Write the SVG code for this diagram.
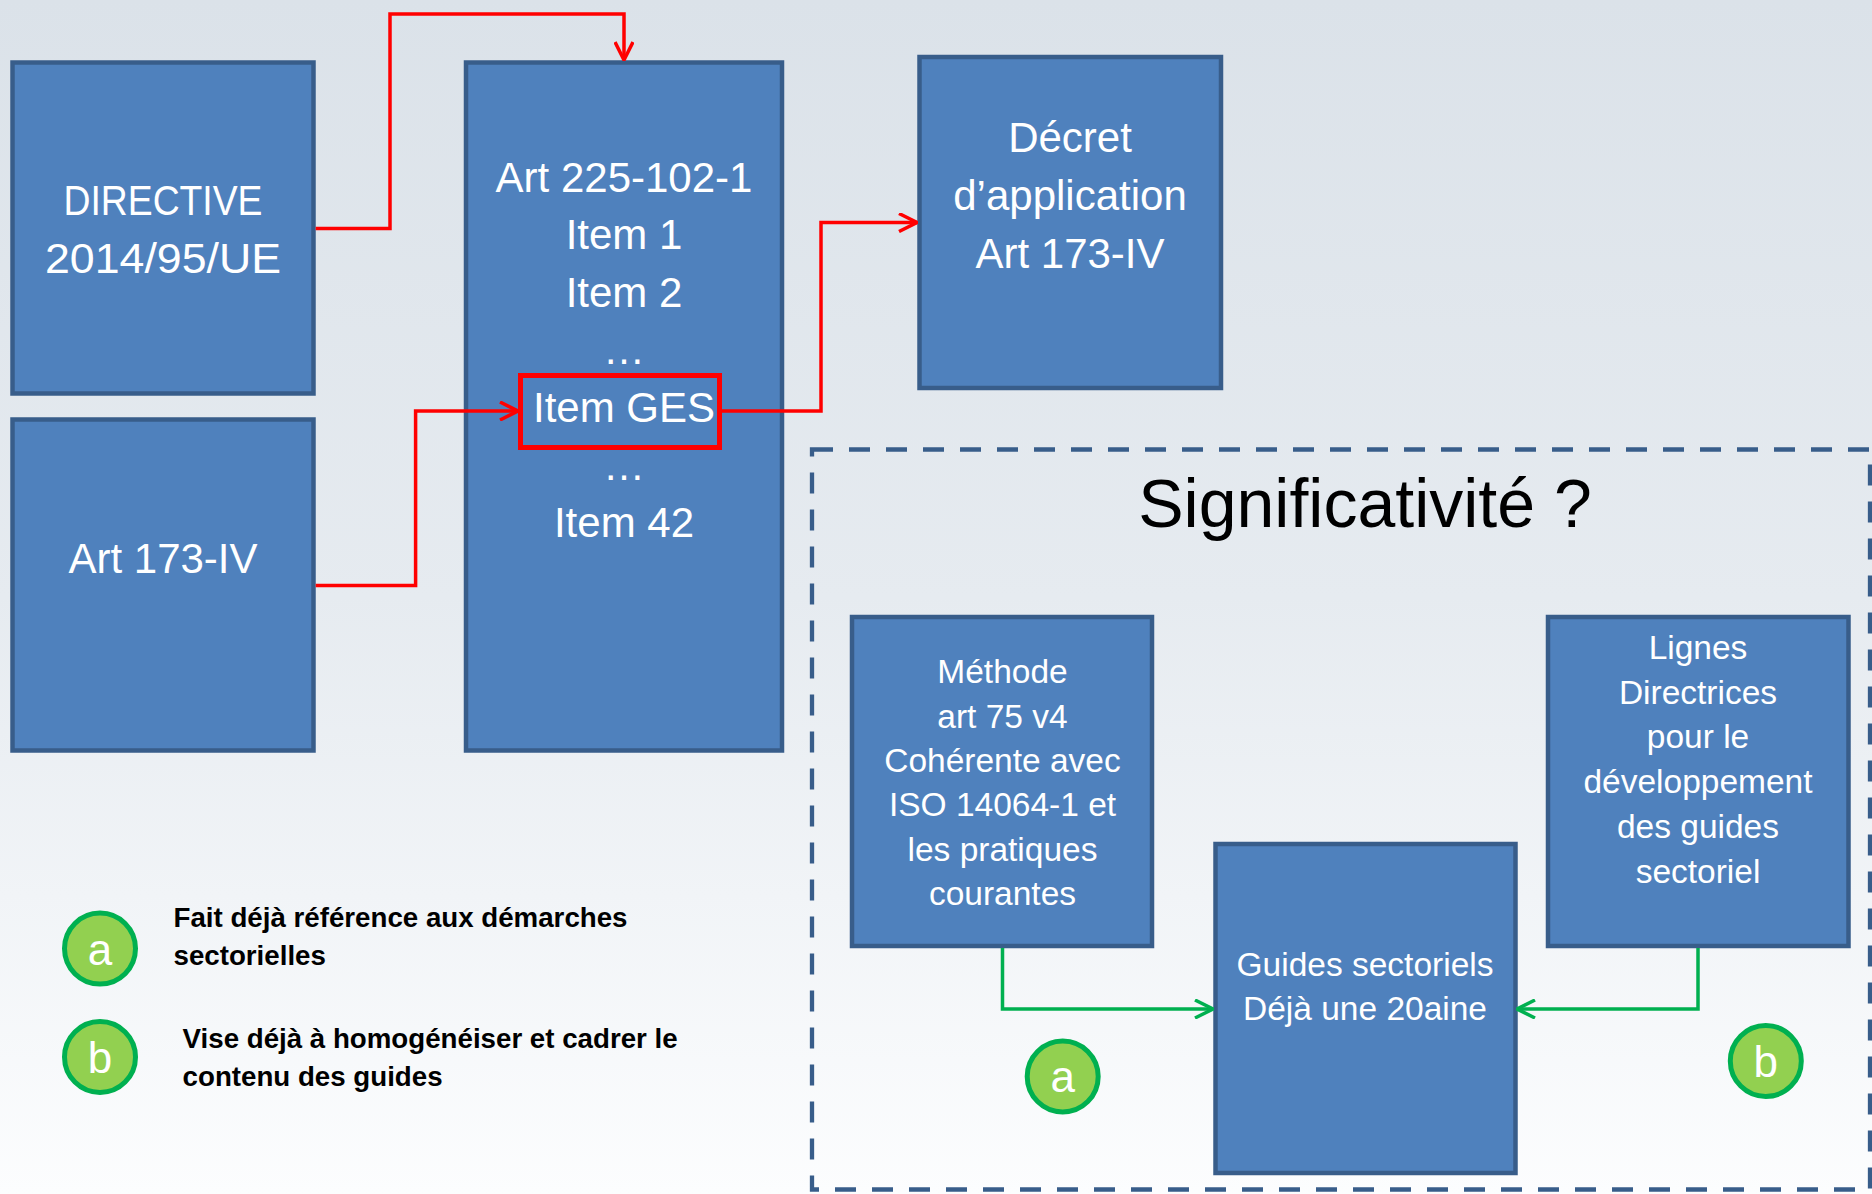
<svg xmlns="http://www.w3.org/2000/svg" width="1872" height="1194" viewBox="0 0 1872 1194">
  <defs>
    <linearGradient id="bg" x1="0" y1="0" x2="0" y2="1">
      <stop offset="0" stop-color="#DBE2E9"/>
      <stop offset="0.5" stop-color="#E6EBF0"/>
      <stop offset="1" stop-color="#FCFDFE"/>
    </linearGradient>
    <marker id="arrRed" viewBox="0 0 20 20" refX="19" refY="10" markerWidth="20" markerHeight="20" markerUnits="userSpaceOnUse" orient="auto">
      <path d="M1,1 L19,10 L1,19" fill="none" stroke="#FF0000" stroke-width="3.5"/>
    </marker>
    <marker id="arrGreen" viewBox="0 0 20 20" refX="19" refY="10" markerWidth="20" markerHeight="20" markerUnits="userSpaceOnUse" orient="auto">
      <path d="M1,1 L19,10 L1,19" fill="none" stroke="#00B050" stroke-width="3.5"/>
    </marker>
  </defs>
  <style>
    .box { fill: #4F81BD; stroke: #385D8A; stroke-width: 4.5; }
    .t { font-family: "Liberation Sans", Arial, sans-serif; fill: #FFFFFF; text-anchor: middle; }
    .big { font-size: 42px; }
    .med { font-size: 33.5px; }
    .red { fill: none; stroke: #FF0000; stroke-width: 3.5; marker-end: url(#arrRed); }
    .green { fill: none; stroke: #00B050; stroke-width: 3.5; marker-end: url(#arrGreen); }
    .circ { fill: #92D050; stroke: #00B050; stroke-width: 5; }
    .letter { font-family: "Liberation Sans", Arial, sans-serif; font-size: 44px; fill: #FFFFFF; text-anchor: middle; }
    .legend { font-family: "Liberation Sans", Arial, sans-serif; font-size: 27.7px; font-weight: bold; fill: #000000; }
  </style>

  <rect x="0" y="0" width="1872" height="1194" fill="url(#bg)"/>

  <g id="zone-significativite">
    <rect x="812" y="449.5" width="1058" height="740" fill="none" stroke="#385D8A" stroke-width="4.3" stroke-dasharray="21 16"/>
    <text x="1365" y="526.5" font-family="Liberation Sans, Arial, sans-serif" font-size="68" fill="#000000" text-anchor="middle">Significativité ?</text>
  </g>

  <g id="directive">
    <rect class="box" x="12.5" y="62.5" width="301" height="331"/>
    <text class="t big" x="163" y="215" textLength="199" lengthAdjust="spacingAndGlyphs">DIRECTIVE</text>
    <text class="t big" x="163" y="272.7" textLength="236" lengthAdjust="spacingAndGlyphs">2014/95/UE</text>
  </g>

  <g id="art173">
    <rect class="box" x="12.5" y="419.5" width="301" height="331"/>
    <text class="t big" x="163" y="572.6">Art 173-IV</text>
  </g>

  <g id="art225">
    <rect class="box" x="466" y="62.5" width="316" height="688"/>
    <text class="t big"><tspan x="624" y="191.5">Art 225-102-1</tspan><tspan x="624" y="249.1">Item 1</tspan><tspan x="624" y="306.7">Item 2</tspan><tspan x="624" y="364.3">…</tspan><tspan x="624" y="479.5">…</tspan><tspan x="624" y="537.1">Item 42</tspan></text>
  </g>

  <g id="item-ges">
    <rect x="520.5" y="375.5" width="199" height="72" fill="none" stroke="#FF0000" stroke-width="5"/>
    <text class="t big" x="624" y="421.9">Item GES</text>
  </g>

  <g id="decret">
    <rect class="box" x="919.5" y="57" width="301.5" height="331"/>
    <text class="t big"><tspan x="1070" y="151.7">Décret</tspan><tspan x="1070" y="210">d’application</tspan><tspan x="1070" y="268.3">Art 173-IV</tspan></text>
  </g>

  <g id="methode">
    <rect class="box" x="852" y="617" width="300" height="329"/>
    <text class="t med"><tspan x="1002.5" y="683.4">Méthode</tspan><tspan x="1002.5" y="728">art 75 v4</tspan><tspan x="1002.5" y="772">Cohérente avec</tspan><tspan x="1002.5" y="816">ISO 14064-1 et</tspan><tspan x="1002.5" y="860.5">les pratiques</tspan><tspan x="1002.5" y="905">courantes</tspan></text>
  </g>

  <g id="guides">
    <rect class="box" x="1215.5" y="844" width="300" height="329"/>
    <text class="t med"><tspan x="1365" y="976">Guides sectoriels</tspan><tspan x="1365" y="1020">Déjà une 20aine</tspan></text>
  </g>

  <g id="lignes">
    <rect class="box" x="1548" y="617" width="300.5" height="329"/>
    <text class="t med"><tspan x="1698" y="659">Lignes</tspan><tspan x="1698" y="703.6">Directrices</tspan><tspan x="1698" y="748">pour le</tspan><tspan x="1698" y="793">développement</tspan><tspan x="1698" y="838">des guides</tspan><tspan x="1698" y="883">sectoriel</tspan></text>
  </g>

  <g id="connectors">
    <polyline class="red" points="315.7,228.5 390,228.5 390,14 624,14 624,60"/>
    <polyline class="red" points="315.7,585.5 415.6,585.5 415.6,411 518,411"/>
    <polyline class="red" points="722,411 821,411 821,222.5 917,222.5"/>
    <polyline class="green" points="1002.5,948 1002.5,1009 1213,1009"/>
    <polyline class="green" points="1698,948 1698,1009 1517,1009"/>
  </g>

  <g id="badge-a">
    <circle class="circ" cx="1062.7" cy="1076.5" r="35.5"/>
    <text class="letter" x="1062.7" y="1092">a</text>
  </g>

  <g id="badge-b">
    <circle class="circ" cx="1765.8" cy="1061" r="35.5"/>
    <text class="letter" x="1765.8" y="1077">b</text>
  </g>

  <g id="legend-a">
    <circle class="circ" cx="100" cy="948.6" r="35.5"/>
    <text class="letter" x="100" y="964.5">a</text>
    <text class="legend"><tspan x="173.5" y="927">Fait déjà référence aux démarches</tspan><tspan x="173.5" y="965">sectorielles</tspan></text>
  </g>

  <g id="legend-b">
    <circle class="circ" cx="100" cy="1057" r="35.5"/>
    <text class="letter" x="100" y="1073">b</text>
    <text class="legend"><tspan x="182.6" y="1048">Vise déjà à homogénéiser et cadrer le</tspan><tspan x="182.6" y="1086">contenu des guides</tspan></text>
  </g>
</svg>
